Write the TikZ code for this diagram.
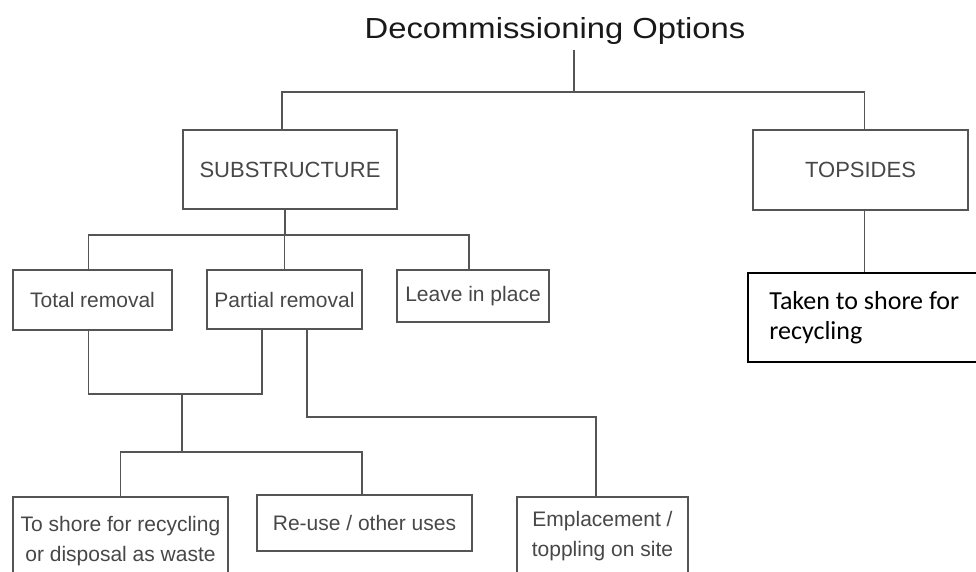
\documentclass[tikz,border=0pt]{standalone}
\usepackage{fontspec}
\setmainfont{Liberation Sans}
\newfontfamily\titlefont[FakeStretch=1.13]{Liberation Sans}
\newfontfamily\notefont{Carlito}
\definecolor{linegray}{HTML}{555555}
\definecolor{textgray}{HTML}{474747}

\tikzstyle{block}=[draw=linegray,line width=1.6pt,text=textgray,font=\fontsize{21}{30}\selectfont,align=center,inner sep=0pt]
\tikzstyle{caps}=[font=\fontsize{22}{30}\selectfont]
\tikzstyle{note}=[draw=black,line width=1.6pt,text=black,font=\notefont\fontsize{26}{30}\selectfont,align=left,inner sep=0pt,anchor=north west]
\tikzstyle{link}=[draw=linegray,line width=1.6pt]

\begin{document}
\begin{tikzpicture}[x=1pt,y=-1pt]
		\useasboundingbox (0,0) rectangle (976,571);
		\clip (0,0) rectangle (976,571);
		\node[text=black!90,font=\titlefont\fontsize{29}{30}\selectfont,inner sep=6pt] (title) at (555,30.5) {Decommissioning Options};
		\node[block,caps,minimum width=214pt,minimum height=79pt] (sub) at (290,169.5) {SUBSTRUCTURE};
		\node[block,caps,minimum width=215pt,minimum height=80pt] (top) at (860.5,170) {TOPSIDES};
		\node[block,minimum width=159pt,minimum height=60pt] (total) at (92.5,300) {Total removal};
		\node[block,minimum width=155pt,minimum height=59pt] (part) at (284.5,299.5) {Partial removal};
		\node[block,minimum width=152pt,minimum height=52pt] (leave) at (473,296) {Leave in place};
		\node[note,minimum width=233pt,minimum height=89pt] (taken) at (747,272) {Taken to shore for\\recycling};
		\node[block,minimum width=215pt,minimum height=88pt] (shore) at (120.5,541) {To shore for recycling\\or disposal as waste};
		\node[block,minimum width=215pt,minimum height=56pt] (reuse) at (364.5,523) {Re-use / other uses};
		\node[block,minimum width=171pt,minimum height=78pt] (empl) at (602.5,536) {Emplacement /\\toppling on site};
		% junctions of the tree
		\coordinate (j1) at (574,92);
		\coordinate (j2) at (285,235);
		\coordinate (j3) at (182,394);
		\coordinate (j4) at (182,452);
		\coordinate (j5) at (307,417);
		\draw[link] (title.south -| j1) -- (j1);
		\draw[link] ([xshift=-8pt]sub.north) |- (j1) -| ([xshift=4pt]top.north);
		\draw[link] (sub.south -| j2) -- (j2);
		\draw[link] ([xshift=-4pt]total.north) |- (j2) -| ([xshift=-4pt]leave.north);
		\draw[link] (part.north) -- (part.north |- j2);
		\draw[link] ([xshift=-4pt]total.south) |- (j3) -| ([xshift=-22.5pt]part.south);
		\draw[link] (j3) -- (j4);
		\draw[link] (shore.north) |- (j4) -| ([xshift=-2.5pt]reuse.north);
		\draw[link] ([xshift=22.5pt]part.south) |- (j5) -| ([xshift=-6.5pt]empl.north);
		\draw[link] ([xshift=4pt]top.south) -- ([xshift=4pt]top.south |- taken.north);
\end{tikzpicture}
\end{document}
